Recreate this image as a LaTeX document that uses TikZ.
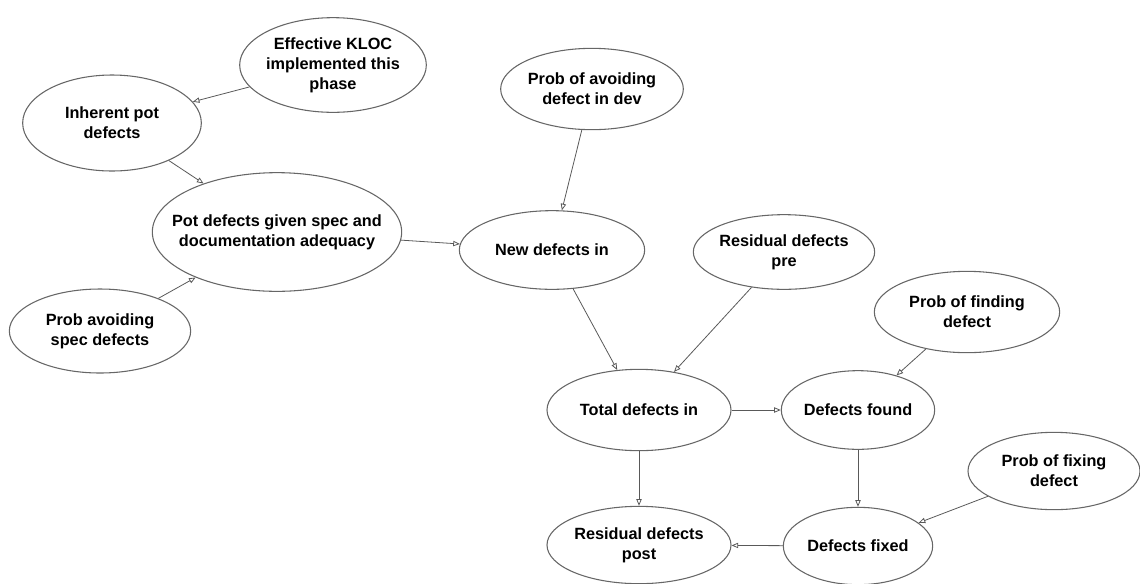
\documentclass[tikz,border=0pt]{standalone}
\usepackage{fontspec}
\setmainfont{Liberation Sans}
\usetikzlibrary{shapes.geometric,arrows.meta}

\begin{document}
\begin{tikzpicture}[x=0.75pt,y=-0.75pt,
        var/.style={ellipse, draw=black!60, line width=0.8pt, fill=white,
            inner xsep=-40pt, inner ysep=0pt, align=center,
            font=\fontsize{12.2}{15}\selectfont\bfseries},
        link/.style={draw=black!65, line width=0.6pt,
            -{Triangle[open,length=5pt,width=4pt]}}]
        \useasboundingbox (0,0) rectangle (1140,583);

        % Specification part
        \node[var, minimum width=140pt, minimum height=71pt] (kloc) at (333,65) {Effective KLOC\\implemented this\\phase};
        \node[var, minimum width=134pt, minimum height=72pt] (inherent) at (112,123) {Inherent pot\\defects};
        \node[var, minimum width=187pt, minimum height=89pt] (potdef) at (277,232) {Pot defects given spec and\\documentation adequacy};
        \node[var, minimum width=136pt, minimum height=63pt] (avoidspec) at (100,331) {Prob avoiding\\spec defects};

        % Development part
        \node[var, minimum width=137pt, minimum height=61pt] (avoiddev) at (592,89) {Prob of avoiding\\defect in dev};
        \node[var, minimum width=139pt, minimum height=59pt] (newdef) at (552,250) {New defects in};
        \node[var, minimum width=136pt, minimum height=56pt] (respre) at (784,252) {Residual defects\\pre};

        % Testing and fixing part
        \node[var, minimum width=138pt, minimum height=61pt] (total) at (639,410) {Total defects in};
        \node[var, minimum width=115pt, minimum height=59pt] (found) at (858,410) {Defects found};
        \node[var, minimum width=139pt, minimum height=61pt] (findprob) at (967,312) {Prob of finding\\defect};
        \node[var, minimum width=129pt, minimum height=58pt] (fixprob) at (1054,471) {Prob of fixing\\defect};
        \node[var, minimum width=138pt, minimum height=58pt] (respost) at (639,545) {Residual defects\\post};
        \node[var, minimum width=112pt, minimum height=58pt] (fixed) at (858,546) {Defects fixed};

        % Links
        \draw[link] (kloc) -- (inherent);
        \draw[link] (inherent) -- (potdef);
        \draw[link] (avoidspec) -- (potdef);
        \draw[link] (potdef) -- (newdef);
        \draw[link] (avoiddev) -- (newdef);
        \draw[link] (newdef) -- (total);
        \draw[link] (respre) -- (total);
        \draw[link] (total) -- (found);
        \draw[link] (findprob) -- (found);
        \draw[link] (total) -- (respost);
        \draw[link] (found) -- (fixed);
        \draw[link] (fixprob) -- (fixed);
        \draw[link] (fixed) -- (respost);
    \end{tikzpicture}
\end{document}
